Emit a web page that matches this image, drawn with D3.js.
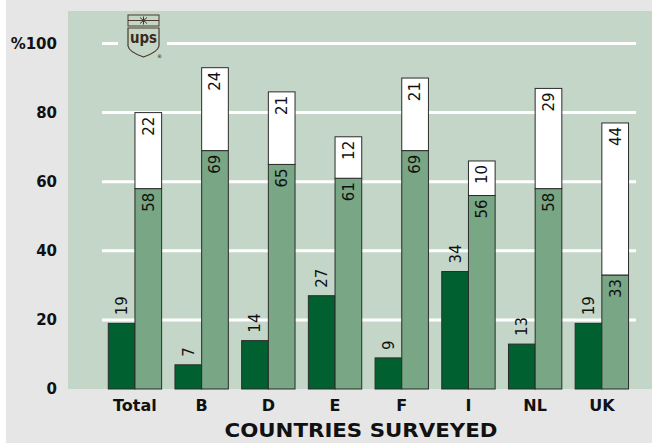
<!DOCTYPE html>
<html>
<head>
<meta charset="utf-8">
<script src="https://d3js.org/d3.v7.min.js"></script>
<style>
  body { margin: 0; background: #fff; }
  text { font-family: "DejaVu Sans", sans-serif; fill: #111; }
</style>
</head>
<body>
<div id="plot"></div>
<script>
// Chart data
var categories = ["Total", "B", "D", "E", "F", "I", "NL", "UK"];
var darkValues = [19, 7, 14, 27, 9, 34, 13, 19];
var lightValues = [58, 69, 65, 61, 69, 56, 58, 33];
var whiteValues = [22, 24, 21, 12, 21, 10, 29, 44];
var yTicks = [0, 20, 40, 60, 80, 100];

var svgWidth = 652;
var svgHeight = 444;

var svg = d3.select("#plot")
  .append("svg")
  .attr("width", svgWidth)
  .attr("height", svgHeight);

// outer grey panel and green plot panel
svg.append("rect")
  .attr("x", 6).attr("y", 0)
  .attr("width", svgWidth - 6).attr("height", 443)
  .attr("fill", "#e6e6e6");

svg.append("rect")
  .attr("x", 68).attr("y", 11)
  .attr("width", svgWidth - 68).attr("height", 378)
  .attr("fill", "#c3d6c8");

// scales
var xScale = d3.scaleBand()
  .domain(categories)
  .range([101.6, 635.2])
  .paddingInner(0.2)
  .paddingOuter(0.1);

var subScale = d3.scaleBand()
  .domain(["dark", "light"])
  .range([0, xScale.bandwidth()]);

var yScale = d3.scaleLinear()
  .domain([0, 100])
  .range([389, 43.5]);

// gridlines (the 100 line is broken by the logo)
var grid = svg.append("g");
yTicks.filter(d => d > 0).forEach(function(t) {
  var segs = t === 100 ? [[102, 118], [167, 636]] : [[102, 636]];
  segs.forEach(function(s) {
    grid.append("line")
      .attr("x1", s[0]).attr("x2", s[1])
      .attr("y1", yScale(t)).attr("y2", yScale(t))
      .attr("stroke", "#fff")
      .attr("stroke-width", 3);
  });
});

// y axis labels
svg.append("g").selectAll("text")
  .data(yTicks)
  .enter()
  .append("text")
  .attr("x", 57)
  .attr("y", d => yScale(d))
  .attr("dy", "0.36em")
  .attr("text-anchor", "end")
  .style("font-size", "15px")
  .style("font-weight", "bold")
  .text(d => d === 100 ? "%100" : d);

// bars
var groups = svg.append("g").selectAll("g")
  .data(categories)
  .enter()
  .append("g")
  .attr("transform", d => `translate(${xScale(d)},0)`);

var bw = subScale.bandwidth();

groups.append("rect")
  .attr("x", subScale("dark"))
  .attr("y", (d, i) => yScale(darkValues[i]))
  .attr("width", bw)
  .attr("height", (d, i) => yScale(0) - yScale(darkValues[i]))
  .attr("fill", "#00602f")
  .attr("stroke", "#2b2b2b");

groups.append("rect")
  .attr("x", subScale("light"))
  .attr("y", (d, i) => yScale(lightValues[i]))
  .attr("width", bw)
  .attr("height", (d, i) => yScale(0) - yScale(lightValues[i]))
  .attr("fill", "#79a684")
  .attr("stroke", "#2b2b2b");

groups.append("rect")
  .attr("x", subScale("light"))
  .attr("y", (d, i) => yScale(lightValues[i] + whiteValues[i]))
  .attr("width", bw)
  .attr("height", (d, i) => yScale(lightValues[i]) - yScale(lightValues[i] + whiteValues[i]))
  .attr("fill", "#fff")
  .attr("stroke", "#2b2b2b");

// value labels (rotated)
function vlabel(sel, xPos, yPos, anchor, getText) {
  sel.append("text")
    .attr("transform", (d, i) => `translate(${xPos},${yPos(i)}) rotate(-90)`)
    .attr("text-anchor", anchor)
    .attr("dy", "0.36em")
    .style("font-size", "15px")
    .text((d, i) => getText(i));
}

vlabel(groups, subScale("dark") + bw / 2, i => yScale(darkValues[i]) - 8, "start", i => darkValues[i]);
vlabel(groups, subScale("light") + bw / 2, i => yScale(lightValues[i]) + 4, "end", i => lightValues[i]);
vlabel(groups, subScale("light") + bw / 2, i => yScale(lightValues[i] + whiteValues[i]) + 4, "end", i => whiteValues[i]);

// category labels
svg.append("g").selectAll("text")
  .data(categories)
  .enter()
  .append("text")
  .attr("x", d => xScale(d) + xScale.bandwidth() / 2)
  .attr("y", 411)
  .attr("text-anchor", "middle")
  .style("font-size", "16px")
  .style("font-weight", "bold")
  .text(d => d);

// axis title
svg.append("text")
  .attr("x", 361)
  .attr("y", 437)
  .attr("text-anchor", "middle")
  .attr("textLength", 273)
  .attr("lengthAdjust", "spacingAndGlyphs")
  .style("font-size", "19px")
  .style("font-weight", "bold")
  .text("COUNTRIES SURVEYED");

// UPS logo
var logo = svg.append("g").attr("transform", "translate(128,15)");
logo.append("rect")
  .attr("x", 0).attr("y", 0).attr("width", 31).attr("height", 11)
  .attr("fill", "none").attr("stroke", "#4a3a2a").attr("stroke-width", 1);
logo.append("line")
  .attr("x1", 0).attr("x2", 31).attr("y1", 5.5).attr("y2", 5.5)
  .attr("stroke", "#4a3a2a");
logo.append("path")
  .attr("d", "M15.5,1.5 L15.5,9.5 M12,2.5 L19,8.5 M19,2.5 L12,8.5")
  .attr("stroke", "#4a3a2a").attr("stroke-width", 1);
logo.append("path")
  .attr("d", "M0,13 L31,13 L31,31 Q30,37 15.5,42 Q1,37 0,31 Z")
  .attr("fill", "#c3d6c8").attr("stroke", "#4a3a2a").attr("stroke-width", 1.2);
logo.append("text")
  .attr("x", 15.5).attr("y", 28)
  .attr("text-anchor", "middle")
  .attr("textLength", 27)
  .attr("lengthAdjust", "spacingAndGlyphs")
  .style("font-size", "16px")
  .style("font-weight", "bold")
  .style("fill", "#3b2a1a")
  .text("ups");
logo.append("text")
  .attr("x", 29).attr("y", 43)
  .style("font-size", "5px")
  .text("®");
</script>
</body>
</html>
